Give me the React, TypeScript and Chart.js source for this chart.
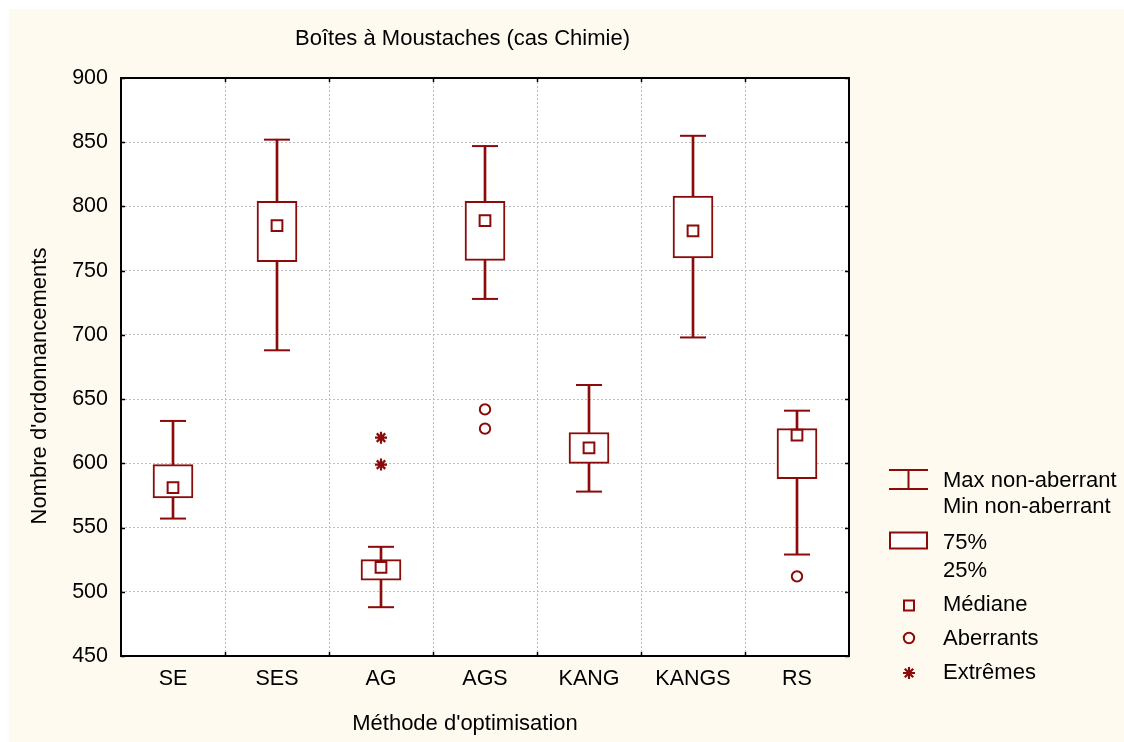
import { useEffect, useRef } from 'react';
import { Chart, registerables } from 'chart.js';

Chart.register(...registerables);

// ---- Data ----
const categories = ['SE', 'SES', 'AG', 'AGS', 'KANG', 'KANGS', 'RS'];
const minValues = [557, 688, 488, 728, 578, 698, 529];
const q1Values = [573, 757, 509, 758, 600, 760, 588];
const medianValues = [581, 785, 519, 789, 612, 781, 622];
const q3Values = [599, 804, 525, 804, 624, 808, 627];
const maxValues = [633, 852, 535, 847, 661, 855, 641];
const outlierPoints = [
  { x: 'AGS', y: 642 },
  { x: 'AGS', y: 627 },
  { x: 'RS', y: 512 },
];
const extremePoints = [
  { x: 'AG', y: 620 },
  { x: 'AG', y: 599 },
];
const yMin = 450;
const yMax = 900;
const yStep = 50;

const titleText = 'Boîtes à Moustaches (cas Chimie)';
const xTitleText = "Méthode d'optimisation";
const yTitleText = "Nombre d'ordonnancements";
const legendWhiskerLabels = ['Max non-aberrant', 'Min non-aberrant'];
const legendBoxLabels = ['75%', '25%'];
const legendMedianLabel = 'Médiane';
const legendOutlierLabel = 'Aberrants';
const legendExtremeLabel = 'Extrêmes';

// ---- Styles ----
const RED = '#8B0A0A';
const FONT_FAMILY = '"Liberation Sans", Arial, Helvetica, sans-serif';
const TICK_FONT_SIZE = 21.5;
const TEXT_FONT_SIZE = 22;
const W = 1115;
const H = 733;

const decorPlugin = {
  id: 'decor',
  beforeDraw(chart: any) {
    const { ctx, chartArea: a } = chart;
    ctx.save();
    ctx.fillStyle = '#FFFFFF';
    ctx.fillRect(a.left, a.top, a.right - a.left, a.bottom - a.top);
    ctx.restore();
  },
  afterDraw(chart: any) {
    const { ctx, chartArea: a } = chart;
    const xs = chart.scales.x;
    const ys = chart.scales.y;
    ctx.save();
    // frame
    ctx.strokeStyle = '#000';
    ctx.lineWidth = 2;
    ctx.strokeRect(a.left, a.top, a.right - a.left, a.bottom - a.top);
    // inward ticks
    ctx.lineWidth = 1.5;
    ys.ticks.forEach((t: any) => {
      const y = Math.round(ys.getPixelForValue(t.value)) + 0.5;
      ctx.beginPath();
      ctx.moveTo(a.left, y);
      ctx.lineTo(a.left + 4, y);
      ctx.moveTo(a.right, y);
      ctx.lineTo(a.right - 4, y);
      ctx.stroke();
    });
    const n = categories.length;
    for (let i = 1; i < n; i++) {
      const x = Math.round((xs.getPixelForValue(i - 1) + xs.getPixelForValue(i)) / 2) + 0.5;
      ctx.beginPath();
      ctx.moveTo(x, a.top);
      ctx.lineTo(x, a.top + 4);
      ctx.moveTo(x, a.bottom);
      ctx.lineTo(x, a.bottom - 4);
      ctx.stroke();
    }

    // texts
    ctx.fillStyle = '#000';
    ctx.font = `${TEXT_FONT_SIZE}px ${FONT_FAMILY}`;
    ctx.textBaseline = 'alphabetic';
    ctx.textAlign = 'center';
    ctx.fillText(titleText, 453.5, 36);
    ctx.fillText(xTitleText, 456, 721);
    ctx.save();
    ctx.translate(36.5, 377);
    ctx.rotate(-Math.PI / 2);
    ctx.fillText(yTitleText, 0, 0);
    ctx.restore();

    // legend
    ctx.textAlign = 'left';
    const tx = 934;
    ctx.fillText(legendWhiskerLabels[0], tx, 478.3);
    ctx.fillText(legendWhiskerLabels[1], tx, 504.3);
    ctx.fillText(legendBoxLabels[0], tx, 540.3);
    ctx.fillText(legendBoxLabels[1], tx, 567.7);
    ctx.fillText(legendMedianLabel, tx, 602);
    ctx.fillText(legendOutlierLabel, tx, 636);
    ctx.fillText(legendExtremeLabel, tx, 670.3);

    ctx.strokeStyle = RED;
    ctx.lineWidth = 2;
    // whisker icon
    ctx.beginPath();
    ctx.moveTo(880, 461);
    ctx.lineTo(919, 461);
    ctx.moveTo(880, 480);
    ctx.lineTo(919, 480);
    ctx.moveTo(899.5, 461);
    ctx.lineTo(899.5, 480);
    ctx.stroke();
    // box icon
    ctx.fillStyle = '#fff';
    ctx.fillRect(881, 523.5, 37, 16);
    ctx.strokeRect(881, 523.5, 37, 16);
    // median icon
    ctx.strokeRect(895, 591.5, 10, 10);
    // outlier icon
    ctx.beginPath();
    ctx.arc(900, 629, 5.2, 0, Math.PI * 2);
    ctx.stroke();
    // extreme icon (star)
    const r = 6;
    ctx.lineWidth = 2.2;
    ctx.beginPath();
    for (let k = 0; k < 4; k++) {
      const ang = (k * Math.PI) / 4;
      ctx.moveTo(900 + Math.cos(ang) * r, 664 + Math.sin(ang) * r);
      ctx.lineTo(900 - Math.cos(ang) * r, 664 - Math.sin(ang) * r);
    }
    ctx.stroke();
    ctx.restore();
  },
};

export default function App() {
  const ref = useRef<HTMLCanvasElement | null>(null);

  useEffect(() => {
    if (!ref.current) return;
    Chart.defaults.font.family = FONT_FAMILY;
    const whiskerLow = minValues.map((v, i) => [v, q1Values[i]]);
    const whiskerHigh = maxValues.map((v, i) => [q3Values[i], v]);
    const boxes = q1Values.map((v, i) => [v, q3Values[i]]);

    const chart = new Chart(ref.current, {
      type: 'bar',
      data: {
        labels: categories,
        datasets: [
          {
            type: 'line',
            label: 'Médiane',
            data: medianValues,
            showLine: false,
            pointStyle: 'rect',
            pointRadius: 7.6,
            pointBorderWidth: 2,
            pointBackgroundColor: '#fff',
            pointBorderColor: RED,
            order: 0,
          } as any,
          {
            type: 'line',
            label: 'Aberrants',
            data: outlierPoints,
            showLine: false,
            pointStyle: 'circle',
            pointRadius: 5.2,
            pointBorderWidth: 2,
            pointBackgroundColor: '#fff',
            pointBorderColor: RED,
            order: 0,
          } as any,
          {
            type: 'line',
            label: 'Extrêmes',
            data: extremePoints,
            showLine: false,
            pointStyle: 'star',
            pointRadius: 6,
            pointBorderWidth: 2.2,
            pointBorderColor: RED,
            order: 0,
          } as any,
          {
            type: 'line',
            label: 'Max',
            data: maxValues,
            showLine: false,
            pointStyle: 'line',
            pointRadius: 13,
            pointBorderWidth: 2,
            pointBorderColor: RED,
            order: 1,
          } as any,
          {
            type: 'line',
            label: 'Min',
            data: minValues,
            showLine: false,
            pointStyle: 'line',
            pointRadius: 13,
            pointBorderWidth: 2,
            pointBorderColor: RED,
            order: 1,
          } as any,
          {
            type: 'bar',
            label: 'Box',
            data: boxes,
            backgroundColor: '#fff',
            borderColor: RED,
            borderWidth: 2,
            borderSkipped: false,
            barThickness: 40,
            grouped: false,
            order: 2,
          } as any,
          {
            type: 'bar',
            label: 'WhiskerLow',
            data: whiskerLow,
            backgroundColor: RED,
            borderWidth: 0,
            barThickness: 2,
            grouped: false,
            order: 3,
          } as any,
          {
            type: 'bar',
            label: 'WhiskerHigh',
            data: whiskerHigh,
            backgroundColor: RED,
            borderWidth: 0,
            barThickness: 2,
            grouped: false,
            order: 3,
          } as any,
        ],
      },
      options: {
        responsive: false,
        animation: false,
        events: [],
        layout: { padding: { top: 69, right: 275, left: 0, bottom: 0 } },
        plugins: {
          legend: { display: false },
          title: { display: false },
          tooltip: { enabled: false },
        },
        scales: {
          x: {
            type: 'category',
            offset: true,
            grid: {
              offset: true,
              drawTicks: false,
              color: '#bdbdbd',
              lineWidth: 1,
            },
            border: { display: false, dash: [2, 2] },
            ticks: {
              color: '#000',
              font: { size: TICK_FONT_SIZE, family: FONT_FAMILY },
              padding: 10,
              maxRotation: 0,
              autoSkip: false,
            },
            afterFit(scale: any) {
              scale.height = 86;
            },
          },
          y: {
            min: yMin,
            max: yMax,
            grid: {
              drawTicks: false,
              color: '#bdbdbd',
              lineWidth: 1,
            },
            border: { display: false, dash: [2, 2] },
            ticks: {
              stepSize: yStep,
              color: '#000',
              font: { size: TICK_FONT_SIZE, family: FONT_FAMILY },
              padding: 13,
            },
            afterFit(scale: any) {
              scale.width = 112;
            },
          },
        },
      },
      plugins: [decorPlugin],
    });
    return () => chart.destroy();
  }, []);

  return (
    <div
      style={{
        position: 'fixed',
        left: 0,
        top: 0,
        width: 1124,
        height: 742,
        background: '#fff',
        overflow: 'hidden',
      }}
    >
      <div
        style={{
          position: 'absolute',
          left: 9,
          top: 9,
          width: W,
          height: H,
          background: '#FFFAF0',
        }}
      >
        <canvas ref={ref} width={W} height={H} style={{ display: 'block' }} />
      </div>
    </div>
  );
}
